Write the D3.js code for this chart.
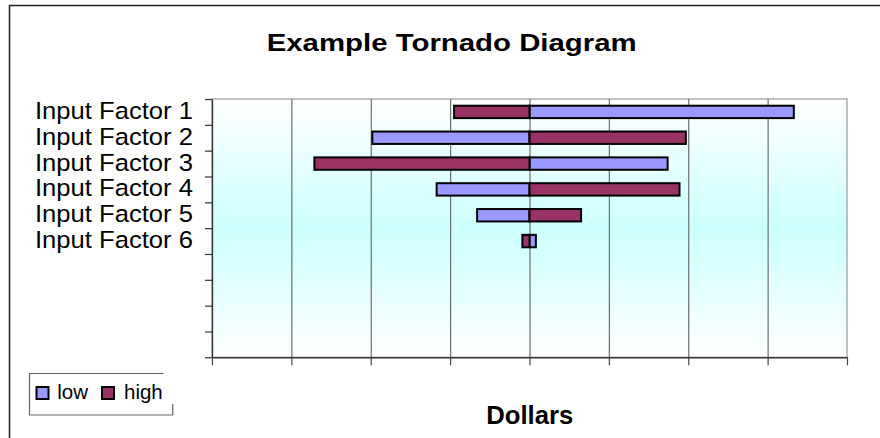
<!DOCTYPE html>
<html>
<head>
<meta charset="utf-8">
<script src="https://cdn.jsdelivr.net/npm/d3@7"></script>
<style>
  html, body { margin: 0; padding: 0; background: #ffffff; }
  svg { display: block; font-family: "Liberation Sans", Arial, sans-serif; }
</style>
</head>
<body>
<svg id="chart" width="880" height="438"></svg>
<script>
// Category rows (the last four rows are blank placeholders on the axis)
const categories = ["Input Factor 1", "Input Factor 2", "Input Factor 3",
                    "Input Factor 4", "Input Factor 5", "Input Factor 6",
                    "", "", "", ""];
// Swing from the base case, in dollars
const lowValues  = [33.3, -19.8, 17.4, -11.7, -6.6, 0.8];
const highValues = [-9.5, 19.7, -27.1, 18.9, 6.5, -0.9];
const seriesNames = ["low", "high"];
const seriesColors = ["#9999FF", "#993366"];
const xTicks = [-40, -30, -20, -10, 0, 10, 20, 30, 40];

const svg = d3.select("#chart");
const plot = { left: 212, right: 847, top: 99, bottom: 357.3 };

// Chart frame
svg.append("rect")
  .attr("x", 9.5).attr("y", 5.5)
  .attr("width", 1000).attr("height", 1000)
  .attr("fill", "#ffffff")
  .attr("stroke", "#222").attr("stroke-width", 1.5);

// Plot background: white -> light cyan -> white
const defs = svg.append("defs");
const grad = defs.append("linearGradient")
  .attr("id", "plotFill").attr("x1", 0).attr("y1", 0).attr("x2", 0).attr("y2", 1);
grad.append("stop").attr("offset", "0%").attr("stop-color", "#ffffff");
grad.append("stop").attr("offset", "50%").attr("stop-color", "#ccffff");
grad.append("stop").attr("offset", "100%").attr("stop-color", "#ffffff");

svg.append("rect")
  .attr("x", plot.left).attr("y", plot.top)
  .attr("width", plot.right - plot.left).attr("height", plot.bottom - plot.top)
  .attr("fill", "url(#plotFill)")
  .attr("stroke", "#a0a0a0").attr("stroke-width", 1.3);

// Scales
const x = d3.scaleLinear().domain([-40, 40]).range([plot.left, plot.right]);
const y = d3.scaleBand()
  .domain(d3.range(categories.length))
  .range([plot.top, plot.bottom])
  .paddingInner(0.52).paddingOuter(0.26);
const rowEdges = d3.scaleLinear().domain([0, categories.length]).range([plot.top, plot.bottom]);

// Vertical gridlines
svg.append("g")
  .attr("transform", `translate(0,${plot.bottom})`)
  .call(d3.axisBottom(x).tickValues(xTicks.slice(1, -1))
        .tickSize(-(plot.bottom - plot.top)).tickFormat(""))
  .call(g => g.select(".domain").remove())
  .call(g => g.selectAll("line").attr("stroke", "#6e6e6e").attr("stroke-width", 1.2));

// Bars: each series extends from zero to its value
const rows = d3.range(lowValues.length).map(i => ({ i, low: lowValues[i], high: highValues[i] }));
[ "low", "high" ].forEach((key, k) => {
  svg.append("g").selectAll("rect")
    .data(rows)
    .join("rect")
      .attr("x", d => x(Math.min(0, d[key])))
      .attr("y", d => y(d.i))
      .attr("width", d => Math.abs(x(d[key]) - x(0)))
      .attr("height", y.bandwidth())
      .attr("fill", seriesColors[k])
      .attr("stroke", "#000").attr("stroke-width", 2);
});

// Category axis: ticks sit on row boundaries
svg.append("g")
  .attr("transform", `translate(${plot.left},0)`)
  .call(d3.axisLeft(rowEdges).ticks(categories.length).tickSize(7).tickSizeOuter(0).tickFormat(""))
  .call(g => g.select(".domain").attr("stroke", "#333").attr("stroke-width", 1.3))
  .call(g => g.selectAll(".tick line").attr("stroke", "#333").attr("stroke-width", 1.2));

svg.append("g").selectAll("text")
  .data(categories.filter(c => c !== ""))
  .join("text")
    .attr("x", 193)
    .attr("y", (d, i) => y(i) + y.bandwidth() / 2 + 7)
    .attr("text-anchor", "end")
    .attr("font-size", 24.5)
    .attr("textLength", 158).attr("lengthAdjust", "spacingAndGlyphs")
    .attr("fill", "#000")
    .text(d => d);

// Value axis along the bottom
svg.append("g")
  .attr("transform", `translate(0,${plot.bottom})`)
  .call(d3.axisBottom(x).tickValues(xTicks).tickSize(8).tickSizeOuter(0).tickFormat(""))
  .call(g => g.select(".domain").attr("stroke", "#333").attr("stroke-width", 1.5))
  .call(g => g.selectAll(".tick line").attr("stroke", "#444").attr("stroke-width", 1.2));

// Title and axis title
svg.append("text")
  .attr("x", 451.7).attr("y", 51)
  .attr("text-anchor", "middle")
  .attr("font-size", 24).attr("font-weight", "bold")
  .attr("textLength", 370).attr("lengthAdjust", "spacingAndGlyphs")
  .text("Example Tornado Diagram");

svg.append("text")
  .attr("x", 529.7).attr("y", 424)
  .attr("text-anchor", "middle")
  .attr("font-size", 25).attr("font-weight", "bold")
  .attr("textLength", 87).attr("lengthAdjust", "spacingAndGlyphs")
  .text("Dollars");

// Legend
svg.append("path")
  .attr("d", "M163.3,373.5 H29.5 V415 H172.7 V404")
  .attr("fill", "none").attr("stroke", "#666").attr("stroke-width", 1.2);

const legendPos = [{ sx: 36.5, tx: 57.3 }, { sx: 102, tx: 124 }];
const legend = svg.append("g").selectAll("g")
  .data(seriesNames)
  .join("g");
legend.append("rect")
  .attr("x", (d, i) => legendPos[i].sx).attr("y", 387)
  .attr("width", 12).attr("height", 12)
  .attr("fill", (d, i) => seriesColors[i])
  .attr("stroke", "#000").attr("stroke-width", 2);
legend.append("text")
  .attr("x", (d, i) => legendPos[i].tx).attr("y", 399.3)
  .attr("font-size", 20.5)
  .text(d => d);
</script>
</body>
</html>
